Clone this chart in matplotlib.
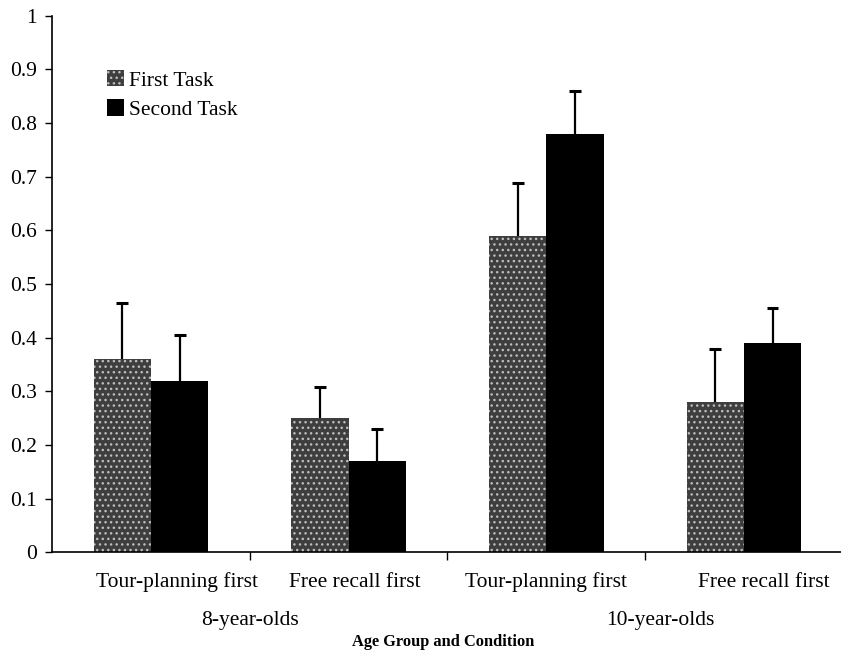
import matplotlib
matplotlib.use("Agg")
import matplotlib.pyplot as plt
import numpy as np
from matplotlib.patches import Patch

conditions = ["Tour-planning first", "Free recall first", "Tour-planning first", "Free recall first"]
age_groups = ["8-year-olds", "10-year-olds"]
first_task = [0.36, 0.25, 0.59, 0.28]
first_err = [0.105, 0.057, 0.098, 0.098]
second_task = [0.32, 0.17, 0.78, 0.39]
second_err = [0.085, 0.06, 0.08, 0.065]
yticks = [0, 0.1, 0.2, 0.3, 0.4, 0.5, 0.6, 0.7, 0.8, 0.9, 1]
ytick_labels = ["0", "0.1", "0.2", "0.3", "0.4", "0.5", "0.6", "0.7", "0.8", "0.9", "1"]

plt.rcParams['font.family'] = ['Liberation Serif', 'DejaVu Serif']
FS = 15.5

fig = plt.figure(figsize=(8.41, 6.55), dpi=100)
ax = fig.add_axes([0.062, 0.157, 0.94, 0.819])

x = np.arange(len(conditions))
w = 0.29
gray = "#3e3e3e"
dots = "#bdbdbd"
ax.bar(x - w / 2, first_task, w, color=gray, linewidth=0, zorder=2)
ax.bar(x - w / 2, first_task, w, facecolor="none", edgecolor=dots, hatch="...", linewidth=0, zorder=3)
ax.bar(x + w / 2, second_task, w, color="black", linewidth=0, zorder=2)

cap = 0.03
for xs, vals, errs in [(x - w / 2, first_task, first_err), (x + w / 2, second_task, second_err)]:
    tops = np.array(vals) + np.array(errs)
    ax.vlines(xs, vals, tops, color="black", linewidth=1.6, zorder=4)
    ax.hlines(tops, xs - cap, xs + cap, color="black", linewidth=2.2, zorder=4)

ax.set_xlim(-0.5, 3.5)
ax.set_ylim(0, 1)
ax.set_yticks(yticks)
ax.set_yticklabels(ytick_labels, fontsize=FS)
ax.tick_params(axis="y", direction="out", length=5, width=1, pad=6)
ax.set_xticks([0.5, 1.5, 2.5])
ax.set_xticklabels([])
ax.tick_params(axis="x", direction="out", length=6, width=1)
ax.spines["top"].set_visible(False)
ax.spines["right"].set_visible(False)
ax.spines["left"].set_linewidth(1.2)
ax.spines["bottom"].set_linewidth(1.2)

label_offsets = [0.13, 0.03, 0.0, 0.1]
for i, c in enumerate(conditions):
    ax.text(i + label_offsets[i], -0.056, c, ha="center", va="center", fontsize=FS)
group_x = [0.5, 2.58]
for j, g in enumerate(age_groups):
    ax.text(group_x[j], -0.128, g, ha="center", va="center", fontsize=FS)
ax.text(1.48, -0.168, "Age Group and Condition", ha="center", va="center",
        fontsize=11.8, fontweight="bold")

h1 = Patch(facecolor=gray, edgecolor=dots, hatch="...", linewidth=0)
h2 = Patch(facecolor="black", linewidth=0)
ax.legend([h1, h2], ["First Task", "Second Task"], loc="upper left",
          bbox_to_anchor=(0.045, 0.935), frameon=False, fontsize=FS,
          handlelength=0.8, handleheight=0.8, handletextpad=0.2, labelspacing=0.4)

fig.savefig("out.png", dpi=100)
